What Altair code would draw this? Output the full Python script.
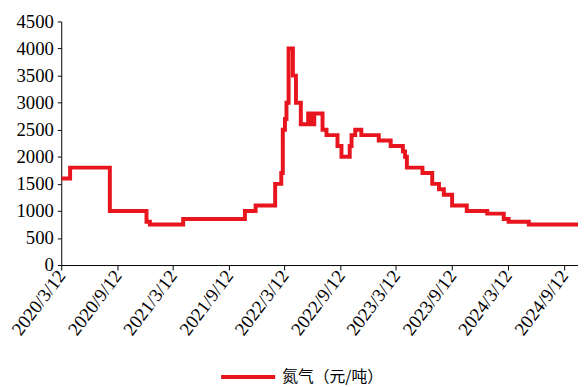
import altair as alt
import pandas as pd

dates = ["2020-03-12", "2020-04-10", "2020-08-18", "2020-12-16", "2020-12-27",
         "2021-04-15", "2021-11-03", "2021-12-08", "2022-02-10", "2022-03-02",
         "2022-03-07", "2022-03-14", "2022-03-19", "2022-03-26", "2022-04-09",
         "2022-04-19", "2022-05-05", "2022-05-29", "2022-06-06", "2022-06-18",
         "2022-07-15", "2022-07-28", "2022-09-02", "2022-09-15", "2022-10-12",
         "2022-10-18", "2022-10-30", "2022-11-19", "2023-01-15", "2023-02-23",
         "2023-04-04", "2023-04-11", "2023-04-17", "2023-06-07", "2023-07-09",
         "2023-07-31", "2023-08-16", "2023-09-12", "2023-10-30", "2024-01-05",
         "2024-02-28", "2024-03-15", "2024-05-20", "2024-10-28"]
values = [1600, 1800, 1000, 800, 750, 850, 1000, 1100, 1500, 1700,
          2500, 2700, 3000, 4000, 3500, 3000, 2600, 2800, 2600, 2800,
          2500, 2400, 2200, 2000, 2200, 2400, 2500, 2400, 2300, 2200,
          2100, 2000, 1800, 1700, 1500, 1400, 1300, 1100, 1000, 950,
          850, 800, 750, 750]
series_name = "氮气（元/吨）"
tick_dates = [(2020, 3), (2020, 9), (2021, 3), (2021, 9), (2022, 3),
              (2022, 9), (2023, 3), (2023, 9), (2024, 3), (2024, 9)]
y_ticks = [0, 500, 1000, 1500, 2000, 2500, 3000, 3500, 4000, 4500]

df = pd.DataFrame({"date": dates, "value": values, "series": series_name})

x_vals = [alt.DateTime(year=y, month=m, date=12, utc=True) for y, m in tick_dates]

chart = alt.Chart(df).mark_line(interpolate="step-after", strokeWidth=4, clip=True).encode(
    x=alt.X("date:T",
            scale=alt.Scale(type="utc",
                            domain=[alt.DateTime(year=2020, month=3, date=12, utc=True),
                                    alt.DateTime(year=2024, month=10, date=28, utc=True)]),
            axis=alt.Axis(values=x_vals, labelExpr="utcFormat(datum.value, '%Y/%-m/%-d')",
                          labelAngle=-53, labelFont="Liberation Serif", labelFontSize=19,
                          labelColor="#000000", tickColor="#000000", domainColor="#000000",
                          tickSize=5, labelPadding=2, grid=False, title=None,
                          labelOverlap=False, labelBound=False, labelFlush=False)),
    y=alt.Y("value:Q",
            scale=alt.Scale(domain=[0, 4500], nice=False),
            axis=alt.Axis(values=y_ticks, format="d", labelFont="Liberation Serif",
                          labelFontSize=19, labelColor="#000000", tickColor="#000000",
                          domainColor="#000000", tickSize=4, labelPadding=4, grid=False,
                          title=None)),
    color=alt.Color("series:N",
                    scale=alt.Scale(range=["#E8141E"]),
                    legend=alt.Legend(title=None, orient="none", legendX=160, legendY=331,
                                      symbolType="stroke", symbolSize=3000,
                                      symbolStrokeWidth=4, labelFont="Noto Sans CJK SC",
                                      labelFontSize=16, labelColor="#000000", labelOffset=5,
                                      padding=0)),
).properties(
    width=524, height=247,
    autosize=alt.AutoSizeParams(type="none"),
    padding={"left": 54, "top": 11, "right": 0, "bottom": 121},
).configure_view(stroke=None)

chart.save("out.html", embed_options={"renderer": "svg", "actions": False})
